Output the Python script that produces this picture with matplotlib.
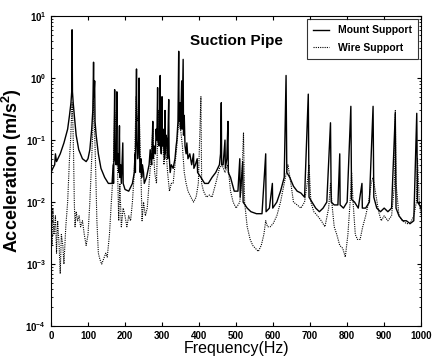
import math
import matplotlib
matplotlib.use("Agg")
import matplotlib.pyplot as plt
from matplotlib.ticker import FixedLocator, FuncFormatter, LogLocator, NullFormatter

plt.rcParams['font.family'] = ['Liberation Sans', 'DejaVu Sans']
plt.rcParams['mathtext.fontset'] = 'custom'
plt.rcParams['mathtext.rm'] = 'Liberation Sans:bold'
plt.rcParams['mathtext.bf'] = 'Liberation Sans:bold'
plt.rcParams['mathtext.default'] = 'bf'

# Mount Support (solid)
mount_freq = [0, 5, 10, 12, 15, 25, 35, 45, 50, 54, 56, 57, 58, 60, 63, 68, 75, 85, 95, 100,
              105, 110, 113, 115, 116, 118, 119, 122, 128, 135, 145, 155, 165, 168, 169, 170, 172, 173, 176, 178,
              179, 181, 183, 185, 186, 188, 190, 194, 195, 200, 210, 220, 225, 227, 228, 229, 231, 232, 234, 236,
              238, 239, 241, 243, 245, 247, 250, 252, 258, 265, 268, 270, 272, 275, 276, 279, 282, 284, 286, 288,
              289, 292, 293, 295, 296, 298, 300, 301, 303, 305, 307, 308, 309, 311, 313, 315, 318, 319, 322, 325,
              330, 335, 338, 340, 343, 345, 346, 348, 350, 353, 354, 357, 358, 360, 362, 365, 367, 370, 375, 380,
              385, 386, 390, 395, 396, 405, 415, 425, 435, 445, 455, 458, 460, 461, 465, 470, 471, 475, 478, 479,
              485, 495, 505, 510, 511, 518, 519, 530, 540, 555, 570, 580, 581, 590, 598, 599, 610, 620, 630, 635,
              637, 645, 655, 665, 675, 685, 695, 697, 705, 715, 725, 735, 745, 755, 757, 765, 775, 780, 781, 790,
              800, 810, 812, 820, 830, 840, 841, 850, 860, 870, 872, 880, 890, 900, 910, 920, 930, 932, 940, 950,
              960, 970, 980, 988, 990, 995, 1000]
mount_acc = [0.030, 0.035, 0.04, 0.06, 0.045, 0.06, 0.09, 0.15, 0.25, 0.4, 0.6, 6.0, 0.6, 0.4, 0.25, 0.12, 0.07, 0.05, 0.045, 0.05,
             0.07, 0.15, 0.3, 1.8, 0.5, 0.9, 0.2, 0.12, 0.06, 0.035, 0.025, 0.02, 0.02, 0.04, 0.02, 0.05, 0.65, 0.05, 0.04, 0.6,
             0.04, 0.06, 0.03, 0.17, 0.025, 0.04, 0.02, 0.09, 0.02, 0.016, 0.015, 0.02, 0.03, 0.06, 0.03, 0.1, 1.4, 0.1, 0.05, 0.08,
             1.0, 0.06, 0.03, 0.05, 0.025, 0.04, 0.03, 0.02, 0.025, 0.04, 0.07, 0.05, 0.04, 0.2, 0.05, 0.08, 0.06, 0.15, 0.1, 0.7,
             0.1, 0.08, 0.2, 1.1, 0.1, 0.06, 0.5, 0.08, 0.15, 0.07, 0.05, 0.3, 0.06, 0.12, 0.1, 0.05, 0.45, 0.06, 0.03, 0.04,
             0.035, 0.05, 0.08, 0.1, 0.2, 2.7, 0.2, 0.4, 0.15, 0.9, 0.15, 2.0, 0.12, 0.25, 0.08, 0.06, 0.09, 0.05, 0.06, 0.04,
             0.06, 0.035, 0.04, 0.05, 0.03, 0.025, 0.02, 0.02, 0.025, 0.03, 0.04, 0.06, 0.4, 0.04, 0.04, 0.1, 0.035, 0.05, 0.2, 0.03,
             0.025, 0.015, 0.015, 0.05, 0.012, 0.045, 0.01, 0.008, 0.007, 0.0065, 0.0065, 0.06, 0.007, 0.008, 0.02, 0.008, 0.01, 0.015, 0.025, 1.1,
             0.03, 0.025, 0.018, 0.015, 0.014, 0.012, 0.55, 0.012, 0.01, 0.008, 0.007, 0.008, 0.01, 0.19, 0.01, 0.009, 0.009, 0.06, 0.009, 0.008,
             0.01, 0.35, 0.011, 0.01, 0.008, 0.02, 0.008, 0.008, 0.01, 0.35, 0.012, 0.008, 0.007, 0.008, 0.007, 0.008, 0.27, 0.008, 0.006, 0.005,
             0.005, 0.0045, 0.005, 0.27, 0.01, 0.009, 0.008]

# Wire Support (dotted)
wire_freq = [0, 3, 5, 8, 12, 15, 18, 22, 25, 28, 32, 35, 40, 45, 50, 53, 55, 57, 59, 61,
             63, 65, 68, 72, 76, 80, 85, 90, 95, 100, 105, 110, 113, 115, 117, 120, 124, 128, 132, 137,
             142, 148, 152, 158, 163, 168, 172, 176, 180, 183, 186, 190, 195, 200, 205, 210, 215, 220, 225, 230,
             234, 238, 242, 246, 250, 255, 260, 265, 270, 275, 280, 285, 290, 295, 300, 305, 310, 315, 320, 325,
             330, 335, 340, 345, 350, 355, 360, 365, 370, 378, 385, 392, 398, 405, 407, 412, 420, 428, 435, 445,
             455, 462, 470, 478, 485, 492, 500, 510, 515, 520, 523, 530, 538, 545, 552, 560, 568, 575, 580, 585,
             592, 600, 610, 620, 630, 640, 648, 655, 665, 675, 685, 692, 697, 702, 710, 720, 730, 740, 750, 755,
             760, 765, 772, 780, 788, 795, 802, 808, 812, 816, 822, 828, 835, 842, 850, 858, 865, 870, 876, 885,
             892, 900, 910, 920, 928, 930, 932, 940, 950, 960, 970, 980, 987, 990, 995, 1000]
wire_acc = [0.005, 0.002, 0.008, 0.003, 0.006, 0.0015, 0.005, 0.002, 0.0007, 0.003, 0.002, 0.001, 0.004, 0.01, 0.05, 0.1, 0.2, 0.4, 0.2, 0.06,
            0.01, 0.004, 0.007, 0.005, 0.006, 0.004, 0.005, 0.003, 0.002, 0.003, 0.01, 0.05, 0.15, 0.5, 0.2, 0.05, 0.005, 0.0015, 0.0012, 0.001,
            0.0012, 0.0015, 0.0013, 0.003, 0.01, 0.03, 0.3, 0.15, 0.03, 0.005, 0.02, 0.004, 0.008, 0.006, 0.004, 0.006, 0.005, 0.01, 0.03, 0.5,
            0.2, 0.3, 0.05, 0.005, 0.01, 0.006, 0.008, 0.02, 0.05, 0.15, 0.03, 0.02, 0.3, 0.1, 0.2, 0.04, 0.08, 0.03, 0.015, 0.02,
            0.02, 0.04, 0.08, 0.2, 0.15, 0.08, 0.03, 0.02, 0.015, 0.012, 0.01, 0.012, 0.02, 0.5, 0.02, 0.015, 0.012, 0.013, 0.012, 0.02,
            0.035, 0.04, 0.03, 0.04, 0.015, 0.01, 0.008, 0.01, 0.02, 0.13, 0.01, 0.004, 0.0025, 0.002, 0.0018, 0.0016, 0.002, 0.003, 0.005, 0.004,
            0.004, 0.0045, 0.006, 0.01, 0.02, 0.04, 0.02, 0.01, 0.009, 0.008, 0.01, 0.02, 0.04, 0.01, 0.007, 0.006, 0.005, 0.004, 0.008, 0.02,
            0.008, 0.004, 0.003, 0.002, 0.0018, 0.0013, 0.003, 0.01, 0.03, 0.01, 0.003, 0.0025, 0.0025, 0.004, 0.006, 0.01, 0.02, 0.025, 0.015, 0.007,
            0.005, 0.006, 0.005, 0.006, 0.02, 0.3, 0.02, 0.006, 0.005, 0.0045, 0.0045, 0.006, 0.01, 0.05, 0.01, 0.006]

x_ticks = [0, 100, 200, 300, 400, 500, 600, 700, 800, 900, 1000]
y_ticks = [1e-4, 1e-3, 1e-2, 1e-1, 1e0, 1e1]

fig = plt.figure(figsize=(4.32, 3.64), dpi=100)
ax = fig.add_axes([0.118, 0.104, 0.857, 0.852])
ax.set_yscale('log')
ax.plot(mount_freq, mount_acc, color='black', lw=1.0, label='Mount Support')
ax.plot(wire_freq, wire_acc, color='black', lw=0.8, ls=(0, (1, 1)), label='Wire Support')
ax.set_xlim(0, 1000)
ax.set_ylim(1e-4, 1e1)
ax.xaxis.set_major_locator(FixedLocator(x_ticks))
ax.yaxis.set_major_locator(FixedLocator(y_ticks))
ax.yaxis.set_minor_locator(LogLocator(base=10, subs=range(2, 10)))
ax.yaxis.set_minor_formatter(NullFormatter())
ax.yaxis.set_major_formatter(FuncFormatter(lambda v, p: r'$\mathbf{10^{%d}}$' % round(math.log10(v))))
ax.tick_params(which='both', direction='in', top=True, right=True, labelsize=7)
ax.tick_params(which='major', length=3)
ax.tick_params(which='minor', length=1.5)
for lab in ax.get_xticklabels():
    lab.set_fontweight('bold')
ax.set_xlabel('Frequency(Hz)', fontsize=11.5, labelpad=0)
ax.set_ylabel(r'Acceleration (m/s$^{2}$)', fontsize=13, fontweight='bold', labelpad=1)
ax.text(0.375, 0.92, 'Suction Pipe', transform=ax.transAxes, fontsize=11, fontweight='bold', ha='left', va='center')
leg = ax.legend(loc='upper right', frameon=True, fancybox=False, edgecolor='black',
                borderaxespad=0.3, handlelength=1.6, labelspacing=0.7, borderpad=0.6,
                prop={'weight': 'bold', 'size': 7.5})
leg.get_frame().set_linewidth(0.8)
for s in ax.spines.values():
    s.set_linewidth(0.8)
fig.savefig('out.png', dpi=100)
